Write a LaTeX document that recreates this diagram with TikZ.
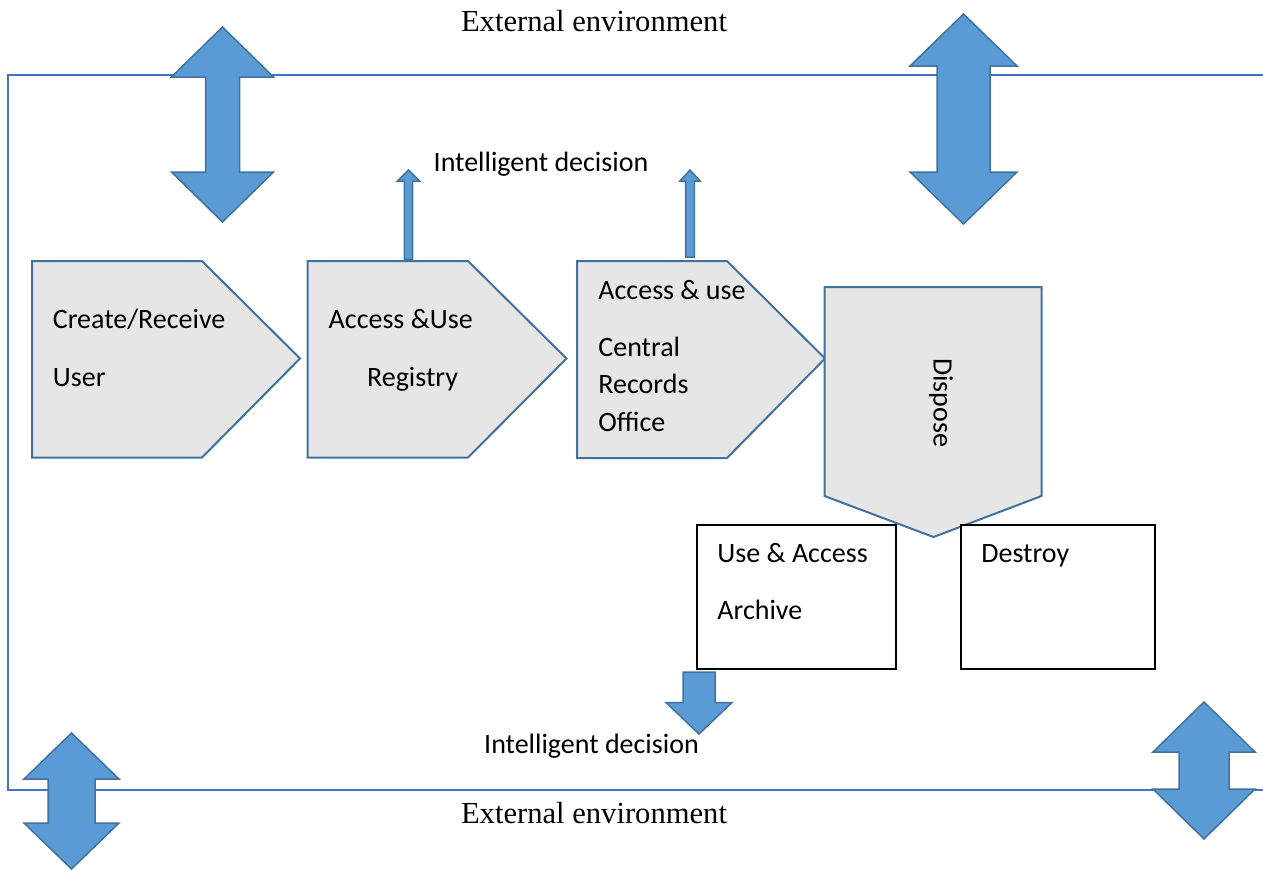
\documentclass[tikz,border=0pt]{standalone}
\usepackage{fontspec}
\setmainfont{Carlito}
\newfontfamily\serifx{Liberation Serif}
\definecolor{arrfill}{HTML}{5B9BD5}
\definecolor{arrline}{HTML}{41719C}
\definecolor{pentfill}{HTML}{E7E6E6}
\definecolor{pentline}{HTML}{41719C}
\definecolor{framecol}{HTML}{4472C4}
\tikzset{
  bigarrow/.style={fill=arrfill, draw=arrline, line width=0.75pt, line join=miter},
  pent/.style={fill=pentfill, draw=pentline, line width=1pt, line join=miter},
  framel/.style={draw=framecol, line width=1pt},
  whitebox/.style={fill=white, draw=black, line width=1pt},
  lbl/.style={inner sep=0pt, anchor=base west, font=\fontsize{14}{16}\selectfont},
  lblc/.style={inner sep=0pt, anchor=base, font=\fontsize{14}{16}\selectfont},
  envlbl/.style={inner sep=0pt, anchor=base, font=\serifx\fontsize{15.3}{17}\selectfont}
}
\newcommand{\dblarr}[6]{%
  \draw[bigarrow] (#1-#4,#2+#6) -- (#1,#2) -- (#1+#4,#2+#6) -- (#1+#5,#2+#6) -- (#1+#5,#3-#6) -- (#1+#4,#3-#6) -- (#1,#3) -- (#1-#4,#3-#6) -- (#1-#5,#3-#6) -- (#1-#5,#2+#6) -- cycle;}
\begin{document}
\begin{tikzpicture}[x=0.5pt,y=-0.5pt]
\useasboundingbox (0,0) rectangle (1263,869);
% frame
\draw[framel] (1263,75) -- (8,75) -- (8,790) -- (1263,790);
% big double arrows
\dblarr{222.5}{27}{222}{51}{17}{50}
\dblarr{963.5}{14}{224}{53.5}{26.5}{52}
\dblarr{71.5}{733}{869}{47.5}{23.5}{46}
\dblarr{1204}{702}{839}{51}{25}{50}
% small up arrows
\draw[bigarrow] (404.3,259) -- (404.3,181) -- (397.5,181) -- (408.5,170) -- (419.5,181) -- (412.7,181) -- (412.7,259) -- cycle;
\draw[bigarrow] (685.7,257) -- (685.7,181) -- (680,181) -- (690,170) -- (700,181) -- (694.3,181) -- (694.3,257) -- cycle;
% pentagons
\draw[pent] (32,261) -- (202,261) -- (300,358.5) -- (202,457.5) -- (32,457.5) -- cycle;
\draw[pent] (307.5,261) -- (468,261) -- (566.5,358.5) -- (468,457.5) -- (307.5,457.5) -- cycle;
\draw[pent] (577,261) -- (727,261) -- (825,358.5) -- (727,458) -- (577,458) -- cycle;
\draw[pent] (824.5,287) -- (1041.5,287) -- (1041.5,496) -- (933.5,537) -- (824.5,496) -- cycle;
% boxes
\draw[whitebox] (697,524.5) rectangle (896,668.5);
\draw[whitebox] (961,524.5) rectangle (1154.5,668.5);
% down arrow
\draw[bigarrow] (683,672) -- (715,672) -- (715,702.5) -- (732,702.5) -- (699,734) -- (666,702.5) -- (683,702.5) -- cycle;
% texts
\node[envlbl] (envtop) at (594,31.7) {External environment};
\node[envlbl] (envbot) at (594,823.3) {External environment};
\node[lblc] (idtop) at (541,171.7) {Intelligent decision};
\node[lblc] (idbot) at (591.5,753.3) {Intelligent decision};
\node[lbl] (cr) at (52.5,328.3) {Create/Receive};
\node[lbl] (us) at (52.5,386.7) {User};
\node[lbl] (au) at (328.3,328.3) {Access \&Use};
\node[lbl] (rg) at (366.7,386.7) {Registry};
\node[lbl] (au2) at (598,299.3) {Access \& use};
\node[lbl] (ce) at (598,356.7) {Central};
\node[lbl] (re) at (598,393) {Records};
\node[lbl] (of) at (598,431.7) {Office};
\node[inner sep=0pt, rotate=-90, font=\fontsize{14}{16}\selectfont] (dp) at (941,402.5) {Dispose};
\node[lbl] (ua) at (717,562.7) {Use \& Access};
\node[lbl] (ar) at (717,619.3) {Archive};
\node[lbl] (de) at (981,562.7) {Destroy};
\end{tikzpicture}
\end{document}
